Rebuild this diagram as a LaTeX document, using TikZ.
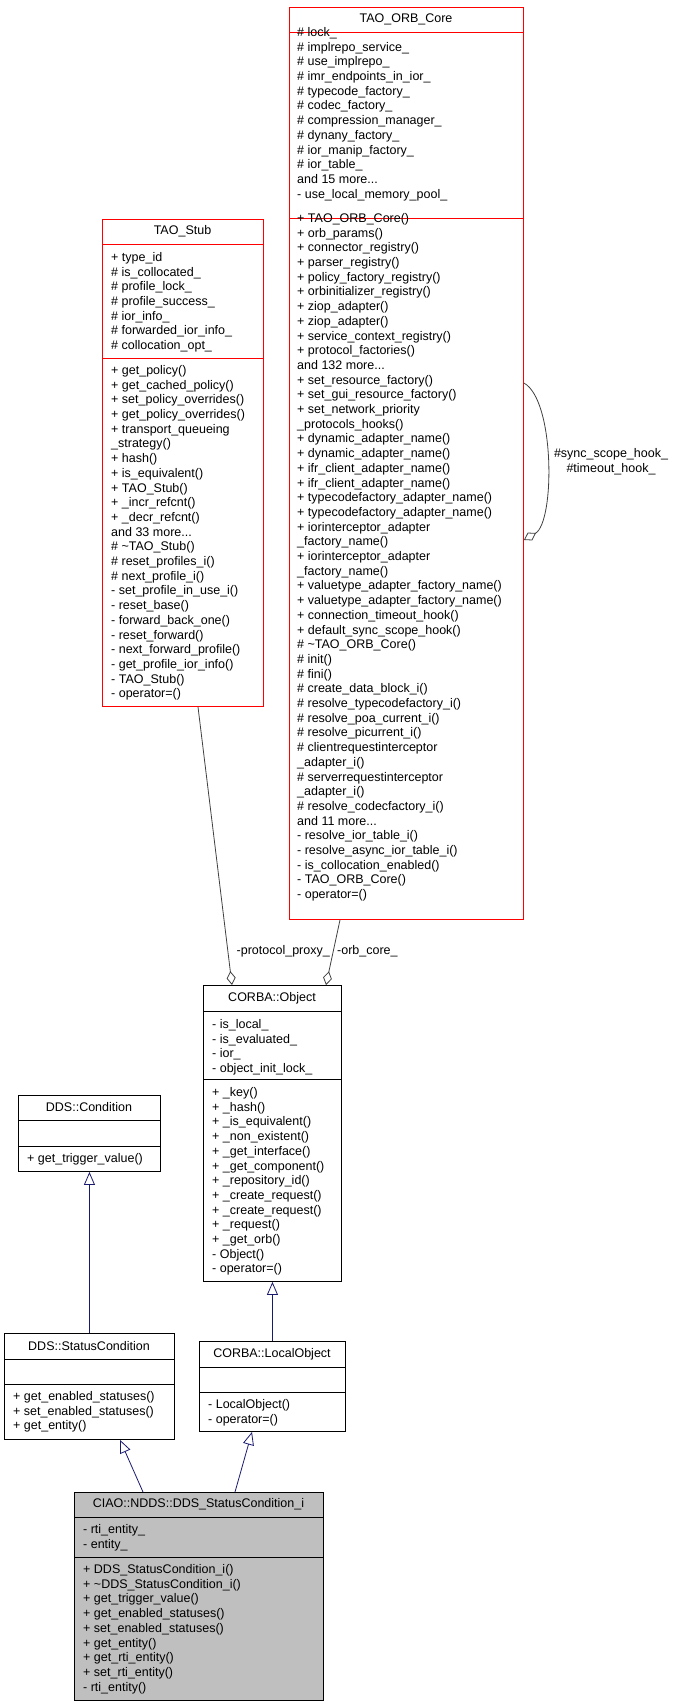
\documentclass[tikz,border=0pt]{standalone}
\usepackage{fontspec}
\setmainfont{Liberation Sans}
\usetikzlibrary{arrows.meta,calc,positioning}
\newcommand{\tl}{\textasciitilde}

\begin{document}
\begin{tikzpicture}[x=1pt,y=-1pt,
    every node/.style={font=\fontsize{12.5}{14.7}\selectfont},
    cls/.style={draw, rectangle, inner sep=0pt, line width=0.9pt, anchor=north west},
    txt/.style={anchor=north west, align=left, inner sep=0pt},
    inh/.style={draw={rgb,255:red,25;green,25;blue,112}, line width=0.8pt, -{Triangle[open,length=13pt,width=11pt]}},
    comp/.style={draw={rgb,255:red,64;green,64;blue,64}, line width=0.8pt, -{Diamond[open,length=14pt,width=9pt]}}]
    \useasboundingbox (0,0) rectangle (676,1707);

    % TAO_ORB_Core
    \node[cls, red, minimum width=234pt, minimum height=912pt] (orb) at (289,7) {};
    \draw[red, line width=0.9pt] (289,32) -- (523,32) (289,218) -- (523,218);
    \node at (406,19.5) {TAO\_ORB\_Core};
    \node[txt] (orbattr) at (297,26) {\strut\# lock\_\\\# implrepo\_service\_\\\# use\_implrepo\_\\\# imr\_endpoints\_in\_ior\_\\\# typecode\_factory\_\\\# codec\_factory\_\\\# compression\_manager\_\\\# dynany\_factory\_\\\# ior\_manip\_factory\_\\\# ior\_table\_\\and 15 more...\\- use\_local\_memory\_pool\_};
    \node[txt] (orbops) at (297,212) {\strut+ TAO\_ORB\_Core()\\+ orb\_params()\\+ connector\_registry()\\+ parser\_registry()\\+ policy\_factory\_registry()\\+ orbinitializer\_registry()\\+ ziop\_adapter()\\+ ziop\_adapter()\\+ service\_context\_registry()\\+ protocol\_factories()\\and 132 more...\\+ set\_resource\_factory()\\+ set\_gui\_resource\_factory()\\+ set\_network\_priority\\\_protocols\_hooks()\\+ dynamic\_adapter\_name()\\+ dynamic\_adapter\_name()\\+ ifr\_client\_adapter\_name()\\+ ifr\_client\_adapter\_name()\\+ typecodefactory\_adapter\_name()\\+ typecodefactory\_adapter\_name()\\+ iorinterceptor\_adapter\\\_factory\_name()\\+ iorinterceptor\_adapter\\\_factory\_name()\\+ valuetype\_adapter\_factory\_name()\\+ valuetype\_adapter\_factory\_name()\\+ connection\_timeout\_hook()\\+ default\_sync\_scope\_hook()\\\# \tl TAO\_ORB\_Core()\\\# init()\\\# fini()\\\# create\_data\_block\_i()\\\# resolve\_typecodefactory\_i()\\\# resolve\_poa\_current\_i()\\\# resolve\_picurrent\_i()\\\# clientrequestinterceptor\\\_adapter\_i()\\\# serverrequestinterceptor\\\_adapter\_i()\\\# resolve\_codecfactory\_i()\\and 11 more...\\- resolve\_ior\_table\_i()\\- resolve\_async\_ior\_table\_i()\\- is\_collocation\_enabled()\\- TAO\_ORB\_Core()\\- operator=()};

    % TAO_Stub
    \node[cls, red, minimum width=161pt, minimum height=487pt] (stub) at (102,219) {};
    \draw[red, line width=0.9pt] (102,244) -- (263,244) (102,358) -- (263,358);
    \node at (182.5,231.5) {TAO\_Stub};
    \node[txt] (stubattr) at (111,251) {\strut+ type\_id\\\# is\_collocated\_\\\# profile\_lock\_\\\# profile\_success\_\\\# ior\_info\_\\\# forwarded\_ior\_info\_\\\# collocation\_opt\_};
    \node[txt] (stubops) at (111,364) {\strut+ get\_policy()\\+ get\_cached\_policy()\\+ set\_policy\_overrides()\\+ get\_policy\_overrides()\\+ transport\_queueing\\\_strategy()\\+ hash()\\+ is\_equivalent()\\+ TAO\_Stub()\\+ \_incr\_refcnt()\\+ \_decr\_refcnt()\\and 33 more...\\\# \tl TAO\_Stub()\\\# reset\_profiles\_i()\\\# next\_profile\_i()\\- set\_profile\_in\_use\_i()\\- reset\_base()\\- forward\_back\_one()\\- reset\_forward()\\- next\_forward\_profile()\\- get\_profile\_ior\_info()\\- TAO\_Stub()\\- operator=()};

    % CORBA::Object
    \node[cls, minimum width=138pt, minimum height=296pt] (obj) at (203,985) {};
    \draw[line width=0.9pt] (203,1011) -- (341,1011) (203,1079) -- (341,1079);
    \node at (272,998) {CORBA::Object};
    \node[txt] (objattr) at (212,1018) {\strut- is\_local\_\\- is\_evaluated\_\\- ior\_\\- object\_init\_lock\_};
    \node[txt] (objops) at (212,1086) {\strut+ \_key()\\+ \_hash()\\+ \_is\_equivalent()\\+ \_non\_existent()\\+ \_get\_interface()\\+ \_get\_component()\\+ \_repository\_id()\\+ \_create\_request()\\+ \_create\_request()\\+ \_request()\\+ \_get\_orb()\\- Object()\\- operator=()};

    % DDS::Condition
    \node[cls, minimum width=142pt, minimum height=76pt] (cond) at (18,1095) {};
    \draw[line width=0.9pt] (18,1120) -- (160,1120) (18,1146) -- (160,1146);
    \node at (89,1107.5) {DDS::Condition};
    \node[txt] (condops) at (27,1152) {\strut+ get\_trigger\_value()};

    % DDS::StatusCondition
    \node[cls, minimum width=170pt, minimum height=106pt] (scond) at (4,1333) {};
    \draw[line width=0.9pt] (4,1359) -- (174,1359) (4,1384) -- (174,1384);
    \node at (89,1346) {DDS::StatusCondition};
    \node[txt] (scondops) at (13,1390) {\strut+ get\_enabled\_statuses()\\+ set\_enabled\_statuses()\\+ get\_entity()};

    % CORBA::LocalObject
    \node[cls, minimum width=146pt, minimum height=90pt] (lobj) at (199,1341) {};
    \draw[line width=0.9pt] (199,1367) -- (345,1367) (199,1392) -- (345,1392);
    \node at (272,1354) {CORBA::LocalObject};
    \node[txt] (lobjops) at (208,1398) {\strut- LocalObject()\\- operator=()};

    % CIAO::NDDS::DDS_StatusCondition_i
    \node[cls, fill={rgb,255:red,191;green,191;blue,191}, minimum width=249pt, minimum height=208pt] (ciao) at (74,1492) {};
    \draw[line width=0.9pt] (74,1517) -- (323,1517) (74,1557) -- (323,1557);
    \node at (198.5,1504.5) {CIAO::NDDS::DDS\_StatusCondition\_i};
    \node[txt] (ciaoattr) at (83,1523) {\strut- rti\_entity\_\\- entity\_};
    \node[txt] (ciaoops) at (83,1563) {\strut+ DDS\_StatusCondition\_i()\\+ \tl DDS\_StatusCondition\_i()\\+ get\_trigger\_value()\\+ get\_enabled\_statuses()\\+ set\_enabled\_statuses()\\+ get\_entity()\\+ get\_rti\_entity()\\+ set\_rti\_entity()\\- rti\_entity()};

    % inheritance
    \draw[inh] (scond.north -| cond.south) -- (cond.south);
    \draw[inh] (lobj.north) -- (obj.south);
    \draw[inh] ($(ciao.north west)+(69,0)$) -- ($(scond.south west)+(116,0)$);
    \draw[inh] ($(ciao.north west)+(161,0)$) -- ($(lobj.south west)+(53,0)$);

    % usage
    \draw[comp] ($(stub.south west)+(96,0)$) -- ($(obj.north west)+(29,0)$);
    \draw[comp] ($(orb.south west)+(51,0)$) -- ($(obj.north west)+(123,0)$);
    \node[anchor=east, inner sep=0pt] (lproxy) at (330,951) {-protocol\_proxy\_};
    \node[anchor=west, inner sep=0pt] (lcore) at (337,951) {-orb\_core\_};
    \draw[comp] ($(orb.north east)+(0,376)$) .. controls (555,400) and (555,522) .. ($(orb.north east)+(0,533)$);
    \node[align=center, inner sep=0pt] (lhooks) at (611,462) {\#sync\_scope\_hook\_\\\#timeout\_hook\_};
\end{tikzpicture}
\end{document}
